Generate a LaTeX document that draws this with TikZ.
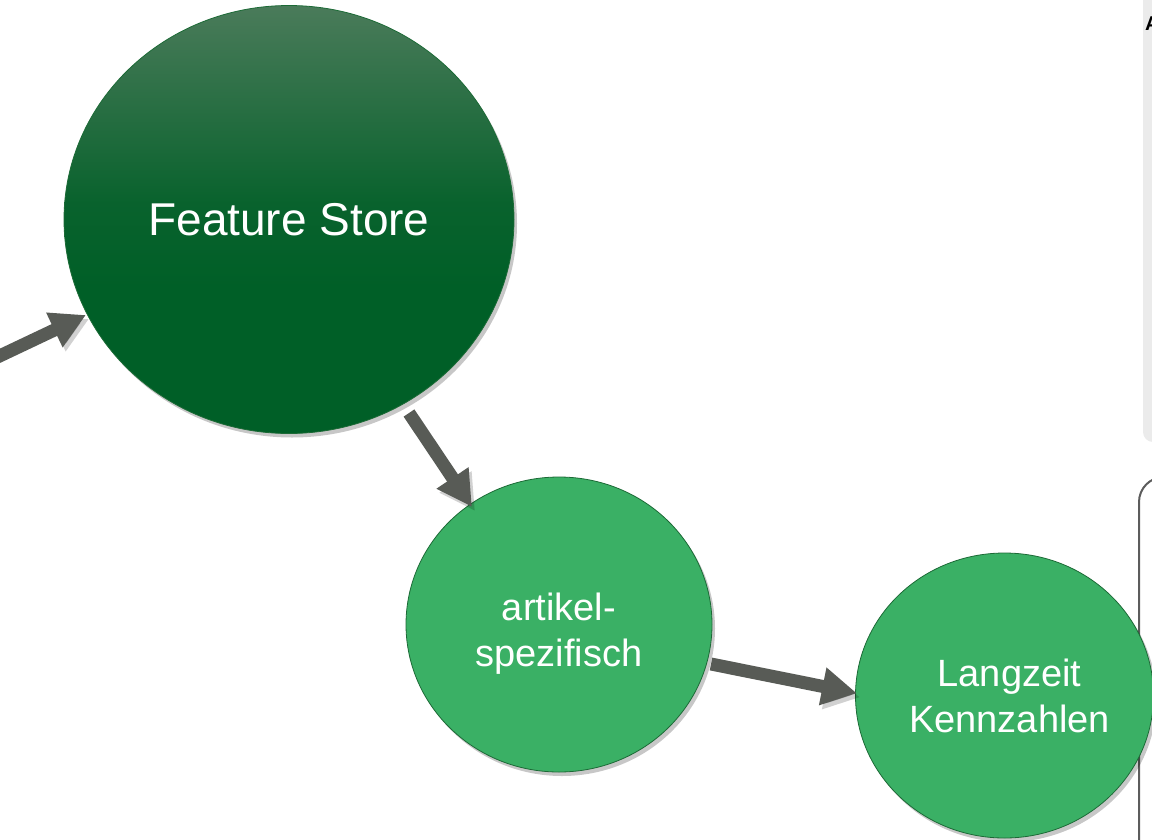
\documentclass[tikz,border=0pt]{standalone}
\usepackage{fontspec}
\setmainfont{Liberation Sans}
\usetikzlibrary{arrows.meta,shapes.geometric,shadows,calc}
\definecolor{fsdark}{HTML}{005F27}
\definecolor{fslight}{HTML}{4A7B5A}
\definecolor{lgreen}{HTML}{3AB065}
\definecolor{bordergreen}{HTML}{1C6A36}
\definecolor{arrgray}{HTML}{585B56}
\definecolor{panelgray}{HTML}{EBEBEB}
\definecolor{framegray}{HTML}{5C5C5C}
\pgfdeclareverticalshading{fsshade}{100bp}{color(0bp)=(fsdark); color(25bp)=(fsdark); color(42bp)=(fsdark); color(52bp)=(fsdark!88!fslight); color(75bp)=(fslight); color(100bp)=(fslight)}
\tikzset{
  circshadow/.style={drop shadow={shadow xshift=3pt, shadow yshift=-4pt, opacity=0.22, fill=black}},
  fsnode/.style={ellipse, inner sep=0pt, minimum width=450pt, minimum height=428pt,
    draw=bordergreen, line width=0.8pt, shading=fsshade, circshadow,
    text=white, font=\fontsize{46}{55}\selectfont},
  smallnode/.style={ellipse, inner sep=0pt, align=center,
    draw=bordergreen, line width=0.8pt, fill=lgreen, circshadow,
    text=white, font=\fontsize{38}{46}\selectfont},
  arr/.style={draw=arrgray, line width=13pt, -{Triangle[width=36pt,length=35pt]},
    preaction={draw=black, opacity=0.18, -{Triangle[width=36pt,length=35pt]},
      transform canvas={xshift=3pt,yshift=-4pt}}}
}
\begin{document}
\begin{tikzpicture}[x=1pt,y=-1pt]
\useasboundingbox (0,0) rectangle (1152,839);
% right panel
\fill[panelgray, rounded corners=10pt] (1143,-20) rectangle (1210,442);
\node[anchor=base west, inner sep=0pt, font=\bfseries\fontsize{20}{22}\selectfont] (pa) at (1145,30) {A};
% outlined frame
\draw[framegray, line width=2pt, rounded corners=25pt] (1139,900) -- (1139,477) -- (1210,477);
% nodes
\node[fsnode] (fs) at (289,219.5) {Feature Store};
\node[smallnode, minimum width=306pt, minimum height=295pt] (art) at (559,624.5) {\rule{0pt}{10pt}\\[-10pt]artikel-\\spezifisch};
\node[smallnode, minimum width=295pt, minimum height=285pt] (lz) at (1004.5,695.5) {\hspace*{10pt}Langzeit\\\hspace*{10pt}Kennzahlen};
\coordinate (src) at (-30,370);
% arrows
\draw[arr] (src) -- ($(fs)+(-203,95.5)$);
\draw[arr] ($(fs)+(120,193.5)$) -- ($(art)+(-87,-117.5)$);
\draw[arr] ($(art)+(152,39.5)$) -- ($(lz)+(-147.5,-2.2)$);
\end{tikzpicture}
\end{document}
